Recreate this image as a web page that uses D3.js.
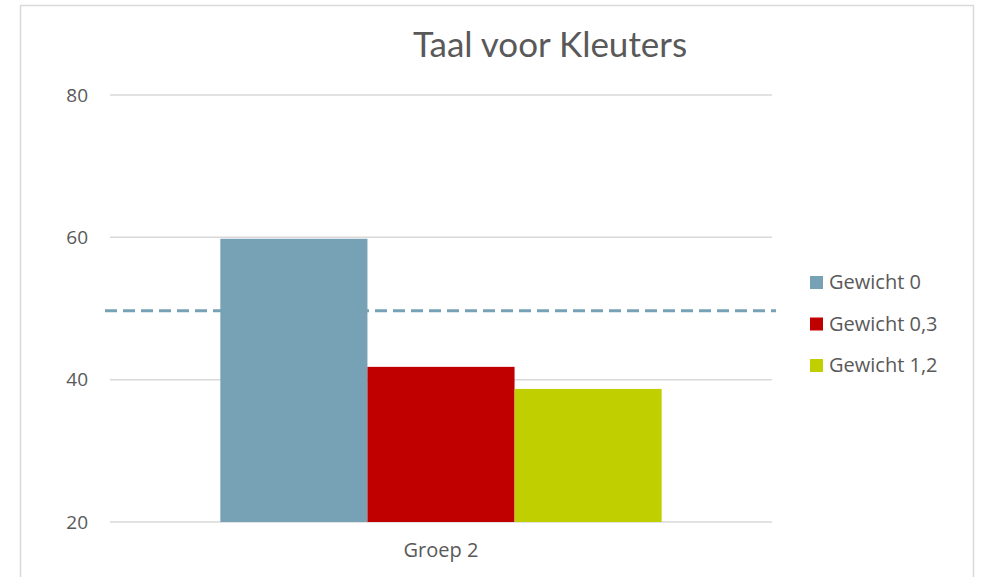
<!DOCTYPE html>
<html>
<head>
<meta charset="utf-8">
<script src="https://cdn.jsdelivr.net/npm/d3@7"></script>
<style>
  body { margin: 0; background: #fff; }
  text { font-family: "Open Sans", sans-serif; fill: #595959; }
</style>
</head>
<body>
<div id="chart"></div>
<script>
let categories = ["Groep 2"];
let series = ["Gewicht 0", "Gewicht 0,3", "Gewicht 1,2"];
let values = [59.8, 41.8, 38.7];
let colors = ["#77A1B5", "#C00000", "#C0CF00"];
let yTicks = [20, 40, 60, 80];
let refLine = 49.7;

let width = 987;
let height = 577;
let margin = { top: 95, right: 215, bottom: 55, left: 110 };

let svg = d3.select("#chart")
  .append("svg")
  .attr("width", width)
  .attr("height", height);

// frame
svg.append("rect")
  .attr("x", 20.5).attr("y", 5.5)
  .attr("width", 953).attr("height", 600)
  .attr("fill", "none")
  .attr("stroke", "#d9d9d9")
  .attr("stroke-width", 1.5);

let x0 = d3.scaleBand()
  .domain(categories)
  .range([margin.left, width - margin.right]);

let x1 = d3.scaleBand()
  .domain(series)
  .range([0, x0.bandwidth()])
  .paddingOuter(0.75);

let y = d3.scaleLinear()
  .domain([20, 80])
  .range([522, 95]);

// gridlines
svg.append("g")
  .selectAll("line")
  .data(yTicks)
  .enter()
  .append("line")
  .attr("x1", margin.left)
  .attr("x2", width - margin.right)
  .attr("y1", d => y(d))
  .attr("y2", d => y(d))
  .attr("stroke", "#d9d9d9")
  .attr("stroke-width", 1.5);

// y axis labels
svg.append("g")
  .attr("transform", "translate(" + (margin.left - 22) + ",0)")
  .call(d3.axisLeft(y).tickValues(yTicks).tickSize(0))
  .call(g => g.select(".domain").remove())
  .call(g => g.selectAll(".tick text")
    .attr("x", 0)
    .attr("text-anchor", "end")
    .style("font-family", "'Open Sans', sans-serif")
    .style("font-size", "19px")
    .attr("fill", "#595959"));

// bars
svg.append("g")
  .selectAll("rect")
  .data(series.map((s, i) => ({ s: s, v: values[i], c: colors[i] })))
  .enter()
  .append("rect")
  .attr("x", d => x0(categories[0]) + x1(d.s))
  .attr("width", x1.bandwidth())
  .attr("y", d => y(d.v))
  .attr("height", d => y(20) - y(d.v))
  .attr("fill", d => d.c);

// dashed reference line
svg.append("line")
  .attr("x1", 105)
  .attr("x2", 776)
  .attr("y1", y(refLine))
  .attr("y2", y(refLine))
  .attr("stroke", "#77A1B5")
  .attr("stroke-width", 3)
  .attr("stroke-dasharray", "12,6");

// x axis label
svg.append("text")
  .attr("x", x0(categories[0]) + x0.bandwidth() / 2)
  .attr("y", 557)
  .attr("text-anchor", "middle")
  .style("font-size", "20px")
  .text(categories[0]);

// title
svg.append("text")
  .attr("x", 550)
  .attr("y", 57)
  .attr("text-anchor", "middle")
  .style("font-family", "Lato, sans-serif")
  .style("font-size", "35px")
  .text("Taal voor Kleuters");

// legend
let legend = svg.append("g")
  .selectAll("g")
  .data(series)
  .enter()
  .append("g")
  .attr("transform", (d, i) => "translate(810," + (282 + i * 41.5) + ")");

legend.append("rect")
  .attr("x", 0)
  .attr("y", -6)
  .attr("width", 13)
  .attr("height", 13)
  .attr("fill", (d, i) => colors[i]);

legend.append("text")
  .attr("x", 19)
  .attr("y", 7)
  .style("font-size", "20px")
  .text(d => d);
</script>
</body>
</html>
